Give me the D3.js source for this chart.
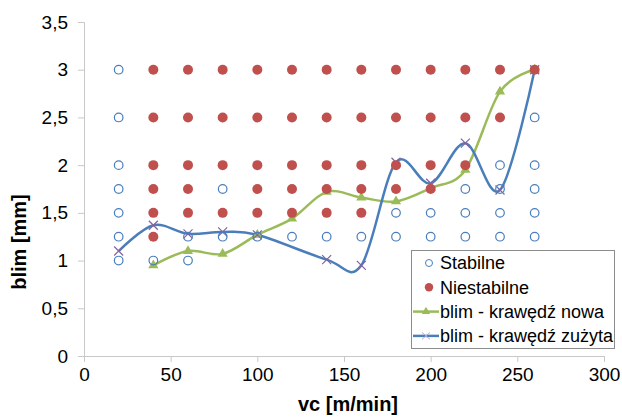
<!DOCTYPE html>
<html>
<head>
<meta charset="utf-8">
<script src="https://cdn.jsdelivr.net/npm/d3@7"></script>
<style>
  body { margin: 0; background: #fff; }
  svg text { font-family: "Liberation Sans", Arial, sans-serif; fill: #000; }
  .axis path, .axis line { stroke: #c8c8c8; }
  .axis text { font-size: 19px; }
  .label { font-size: 20px; font-weight: bold; }
  .legend text { font-size: 18px; }
</style>
</head>
<body>
<div id="chart"></div>
<script>

// points of the map [vc, blim]
var stabilne = [
  [20, 1], [20, 1.25], [20, 1.5], [20, 1.75], [20, 2], [20, 2.5], [20, 3],
  [40, 1], [60, 1], [60, 1.25], [80, 1.25], [80, 1.75],
  [100, 1.25], [120, 1.25], [140, 1.25], [160, 1.25],
  [180, 1.25], [180, 1.5], [200, 1.25], [200, 1.5],
  [220, 1.25], [220, 1.5], [220, 1.75],
  [240, 1.25], [240, 1.5], [240, 1.75], [240, 2],
  [260, 1.25], [260, 1.5], [260, 1.75], [260, 2], [260, 2.5]
];

var niestabilne = [
  [40, 1.25], [40, 1.5], [40, 1.75], [40, 2], [40, 2.5], [40, 3],
  [60, 1.5], [60, 1.75], [60, 2], [60, 2.5], [60, 3],
  [80, 1.5], [80, 2], [80, 2.5], [80, 3],
  [100, 1.5], [100, 1.75], [100, 2], [100, 2.5], [100, 3],
  [120, 1.5], [120, 1.75], [120, 2], [120, 2.5], [120, 3],
  [140, 1.5], [140, 1.75], [140, 2], [140, 2.5], [140, 3],
  [160, 1.5], [160, 1.75], [160, 2], [160, 2.5], [160, 3],
  [180, 1.75], [180, 2], [180, 2.5], [180, 3],
  [200, 1.75], [200, 2], [200, 2.5], [200, 3],
  [220, 2], [220, 2.5], [220, 3],
  [240, 2.5], [240, 3],
  [260, 3]
];

// stability limit lines
var vcNowa = [40, 60, 80, 100, 120, 140, 160, 180, 200, 220, 240, 260];
var blimNowa = [0.95, 1.1, 1.07, 1.27, 1.44, 1.72, 1.66, 1.62, 1.76, 1.95, 2.77, 3];

var vcZuzyta = [20, 40, 60, 80, 100, 140, 160, 180, 200, 220, 240, 260];
var blimZuzyta = [1.1, 1.37, 1.28, 1.3, 1.27, 1.01, 0.95, 2.03, 1.81, 2.23, 1.74, 3];

var xTicks = [0, 50, 100, 150, 200, 250, 300];
var yTicks = [0, 0.5, 1, 1.5, 2, 2.5, 3, 3.5];

var legendNames = ["Stabilne", "Niestabilne", "blim - krawędź nowa", "blim - krawędź zużyta"];

var params = {
  width: 622, height: 417,
  left: 84, right: 604, top: 22, bottom: 356,
  blue: "#4a7ebb", red: "#c0504d", green: "#9bbb59", purple: "#8064a2"
};

var pl = d3.formatLocale({ decimal: ",", thousands: " ", grouping: [3], currency: ["", ""] });

var x = d3.scaleLinear().domain([0, 300]).range([params.left, params.right]);
var y = d3.scaleLinear().domain([0, 3.5]).range([params.bottom, params.top]);

var svg = d3.select("#chart").append("svg")
  .attr("width", params.width)
  .attr("height", params.height);

// axes
var x_axis = d3.axisBottom(x).tickValues(xTicks).tickSizeOuter(0).tickSize(6).tickPadding(6);
svg.append("g")
  .attr("class", "axis")
  .attr("transform", "translate(0," + params.bottom + ")")
  .call(x_axis);

var y_axis = d3.axisLeft(y).tickValues(yTicks).tickSizeOuter(0).tickSize(6).tickPadding(10)
  .tickFormat(function(d) { return pl.format("~g")(d); });
svg.append("g")
  .attr("class", "axis")
  .attr("transform", "translate(" + params.left + ",0)")
  .call(y_axis);

svg.selectAll(".axis .tick text").attr("fill", "#000");

// axis labels
svg.append("text")
  .attr("class", "label")
  .attr("x", 348)
  .attr("y", 411)
  .attr("text-anchor", "middle")
  .text("vc [m/min]");

svg.append("text")
  .attr("class", "label")
  .attr("transform", "translate(26,242) rotate(-90)")
  .attr("text-anchor", "middle")
  .text("blim [mm]");

// lines
var curve = d3.curveCatmullRom.alpha(0);

var lineNowa = d3.line()
  .x(function(d, i) { return x(vcNowa[i]); })
  .y(function(d) { return y(d); })
  .curve(curve);

var lineZuzyta = d3.line()
  .x(function(d, i) { return x(vcZuzyta[i]); })
  .y(function(d) { return y(d); })
  .curve(curve);

svg.append("path")
  .attr("d", lineNowa(blimNowa))
  .attr("fill", "none")
  .attr("stroke", params.green)
  .attr("stroke-width", 2.5);

svg.append("path")
  .attr("d", lineZuzyta(blimZuzyta))
  .attr("fill", "none")
  .attr("stroke", params.blue)
  .attr("stroke-width", 2.5);

var tri = d3.symbol().type(d3.symbolTriangle).size(45);

svg.selectAll(".tri")
  .data(blimNowa).enter()
  .append("path")
    .attr("class", "tri")
    .attr("d", tri)
    .attr("transform", function(d, i) { return "translate(" + x(vcNowa[i]) + "," + y(d) + ")"; })
    .attr("fill", params.green);

svg.selectAll(".cross")
  .data(blimZuzyta).enter()
  .append("path")
    .attr("class", "cross")
    .attr("d", "M-4.5,-4.5L4.5,4.5M-4.5,4.5L4.5,-4.5")
    .attr("transform", function(d, i) { return "translate(" + x(vcZuzyta[i]) + "," + y(d) + ")"; })
    .attr("stroke", params.purple)
    .attr("stroke-width", 1.2);

// scatter points
svg.selectAll(".stab")
  .data(stabilne).enter()
  .append("circle")
    .attr("class", "stab")
    .attr("cx", function(d) { return x(d[0]); })
    .attr("cy", function(d) { return y(d[1]); })
    .attr("r", 4.3)
    .attr("fill", "none")
    .attr("stroke", params.blue)
    .attr("stroke-width", 1.2);

svg.selectAll(".niestab")
  .data(niestabilne).enter()
  .append("circle")
    .attr("class", "niestab")
    .attr("cx", function(d) { return x(d[0]); })
    .attr("cy", function(d) { return y(d[1]); })
    .attr("r", 5)
    .attr("fill", params.red);

// legend
var legend = svg.append("g").attr("class", "legend");

legend.append("rect")
  .attr("x", 411.5)
  .attr("y", 250.5)
  .attr("width", 203)
  .attr("height", 98)
  .attr("fill", "#fff")
  .attr("stroke", "#8c8c8c");

var item = legend.selectAll(".item")
  .data(legendNames).enter()
  .append("g")
    .attr("class", "item")
    .attr("transform", function(d, i) { return "translate(0," + (263 + i * 24.3) + ")"; });

item.append("text")
  .attr("x", 440)
  .attr("y", 0)
  .attr("dy", "0.36em")
  .text(function(d) { return d; });

legend.append("circle")
  .attr("cx", 429).attr("cy", 263).attr("r", 3.5)
  .attr("fill", "none").attr("stroke", params.blue).attr("stroke-width", 1);
legend.append("circle")
  .attr("cx", 429).attr("cy", 287.3).attr("r", 4.2)
  .attr("fill", params.red);

legend.append("line")
  .attr("x1", 413).attr("x2", 439).attr("y1", 311.6).attr("y2", 311.6)
  .attr("stroke", params.green).attr("stroke-width", 2.5);
legend.append("path")
  .attr("d", d3.symbol().type(d3.symbolTriangle).size(30))
  .attr("transform", "translate(426,311.6)")
  .attr("fill", params.green);

legend.append("line")
  .attr("x1", 413).attr("x2", 439).attr("y1", 335.9).attr("y2", 335.9)
  .attr("stroke", params.blue).attr("stroke-width", 2.5);
legend.append("path")
  .attr("d", "M-4,-3.5L4,3.5M-4,3.5L4,-3.5")
  .attr("transform", "translate(426,335.9)")
  .attr("stroke", "#b9a8d0").attr("stroke-width", 1);

</script>
</body>
</html>
